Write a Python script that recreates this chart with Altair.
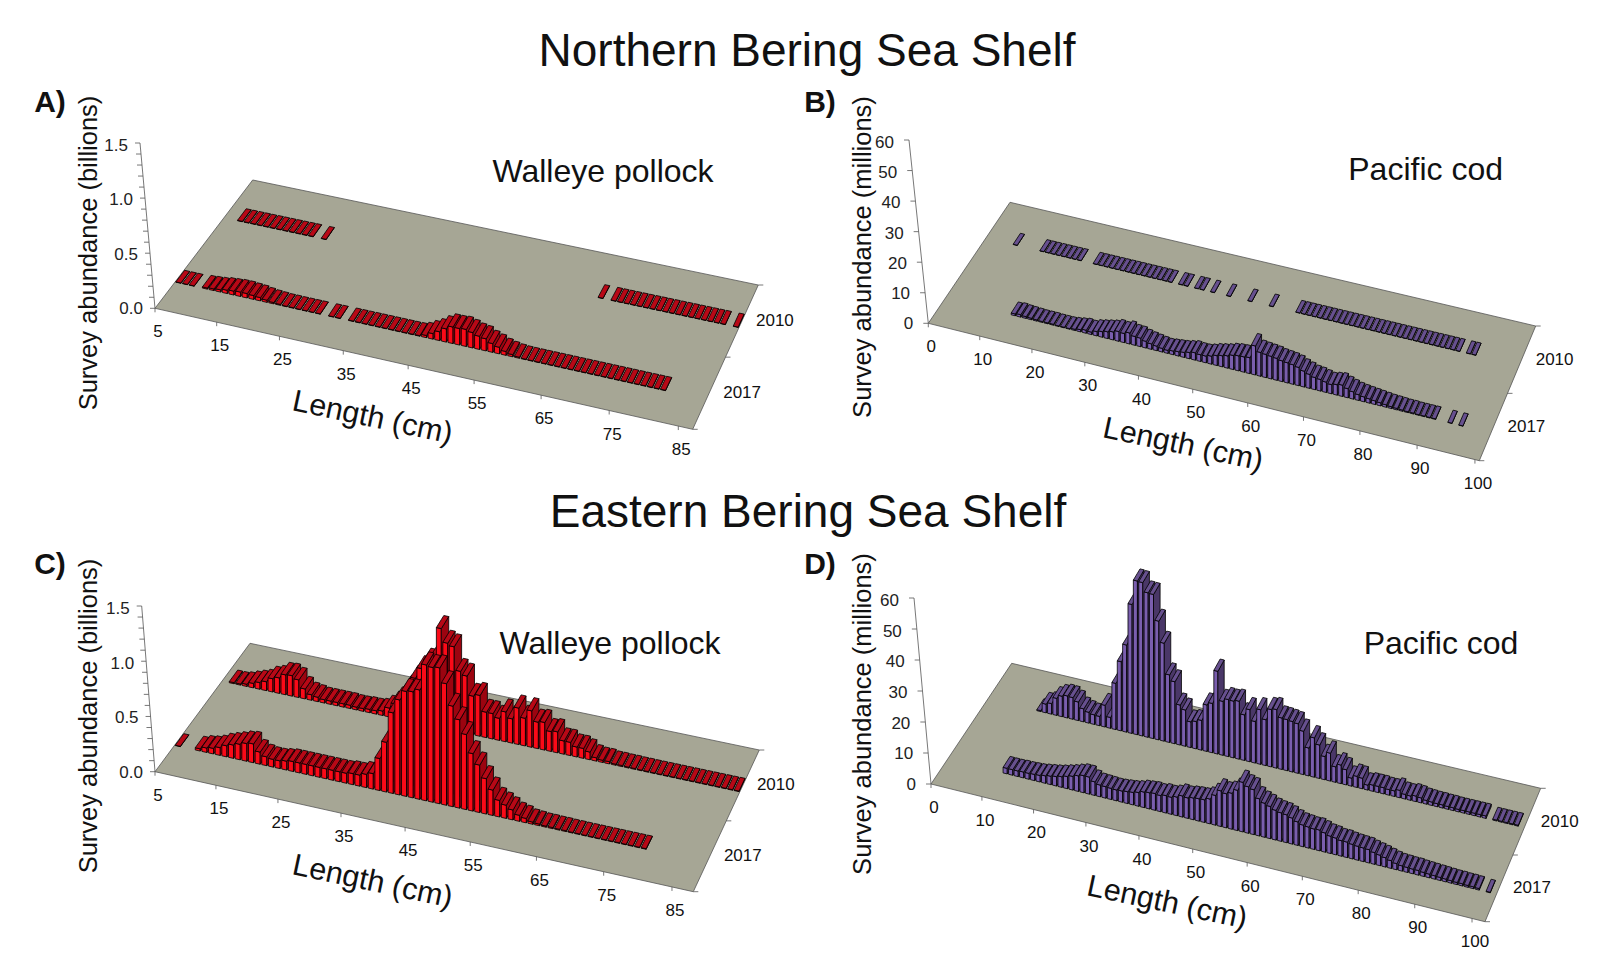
import altair as alt
import pandas as pd

alt.data_transformers.disable_max_rows()

# ---------- values: (first bin, abundances per 1-cm bin) ----------
A_2017 = [(0, [.003, .003, .003]),
          (4, [.01, .015, .02, .03, .035, .04, .04, .035, .03, .02, .012, .008, .004, .004, .003, .003, .003, .003]),
          (23, [.003, .003]),
          (26, [.004, .004, .004, .004, .004, .004, .004, .004, .004, .004, .005, .02, .05, .08, .12, .15, .15, .155,
                .14, .12, .11, .08, .06, .035, .02, .01, .005, .004, .004, .004, .004, .004, .004, .004, .004, .004,
                .004, .004, .004, .004, .004, .004, .004, .004, .004, .004, .004, .004])]
A_2010 = [(2, [.004, .004, .004, .004, .004, .004, .004, .004, .004, .004, .004, .004]),
          (15, [.003]), (58, [.003]),
          (60, [.003, .003, .003, .003, .003, .003, .003, .003, .003, .003, .003, .003, .003, .003, .003, .003, .003, .003]),
          (79, [.003])]
B_2017 = [(12, [.6, .8, .6, .5, .4, .3, .3, .3, .2, .2, .2, .4, .7, 1.0, .8, 1.4, 1.8, 2.2, 2.6, 3.2, 3.0, 3.6, 2.9, 2.8,
                2.2, 1.8, 1.5, 1.2, 1.0, 1.2, 1.4, 1.6, 2.0, 2.4, 2.2, 2.2, 2.6, 3.2, 3.6, 4.0, 4.6, 4.9, 5.0, 5.2, 9.5,
                7.8, 7.6, 7.4, 7.2, 6.8, 6.6, 6.4, 6.0, 5.2, 4.6, 4.0, 3.8, 3.4, 3.0, 3.4, 3.7, 3.0, 2.4, 1.9, 1.6, 1.4,
                1.2, 1.0, .8, .6, .5, .4, .3, .3, .2, .2, .2, .2]),
          (92, [.1]), (94, [.1])]
B_2010 = [(5, [.1]),
          (10, [.1, .1, .1, .1, .1, .1, .1, .1]),
          (20, [.1, .1, .1, .1, .1, .1, .1, .1, .1, .1, .1, .1, .1, .1, .1]),
          (36, [.1, .1]), (39, [.1, .1]), (42, [.1]), (45, [.1]), (49, [.1]), (53, [.1]),
          (58, [.1, .1, .1, .1, .1, .1, .1, .1, .1, .1, .1, .1, .1, .1, .1, .1, .1, .1, .1, .1, .1, .1, .1, .1, .1, .1,
                .1, .1, .1, .1, .1]),
          (90, [.1, .1])]
C_2017 = [(0, [.003]),
          (3, [.02, .04, .05, .07, .10, .12, .14, .16, .17, .11, .08, .07, .07, .08, .09, .09, .09, .09, .09, .09, .09,
               .09, .09, .10, .10, .12, .14, .29, .45, .73, .86, .95, .96, .99, 1.23, 1.22, 1.23, 1.1, .91, .8, .68, .52,
               .43, .32, .23, .15, .12, .09, .055, .04, .02, .015, .01, .01, .008, .008, .006, .006, .005, .005, .005,
               .005, .005, .005, .005, .005, .005, .005])]
C_2010 = [(1, [.01, .01, .02, .04, .06, .08, .12, .14, .18, .185, .16, .09, .05, .04, .03, .03, .03, .03, .03, .025, .025,
               .03, .03, .04, .08, .13, .2, .3, .4, .5, .58, .62, .90, .78, .76, .55, .52, .35, .37, .23, .23, .2, .27,
               .22, .33, .25, .33, .24, .25, .18, .19, .12, .12, .09, .09, .07, .03, .02, .02, .01, .01, .008, .008, .006,
               .006, .005, .005, .005, .005, .005, .005, .005, .005, .005, .005, .005, .005, .005, .005])]
D_2017 = [(10, [1.8, 1.8, 1.8, 1.9, 1.9, 2, 2.1, 2.4, 2.7, 3, 3.4, 3.9, 4.4, 5, 5.5, 5.5, 4.4, 3.8, 3.7, 3.6, 3.5, 3.6, 3.8,
                4, 4.4, 5, 5.2, 5.4, 5.2, 5.6, 5.5, 6, 6.8, 6.6, 7, 7.2, 7.3, 8, 9.6, 11.5, 11, 11.6, 13, 16, 15, 14.5,
                12, 11, 10.4, 9.6, 9.2, 9, 8.4, 7.6, 7, 6.8, 6.6, 6.7, 6.2, 5.6, 5.4, 5, 5, 4.7, 4.5, 4.4, 4.3, 3.8, 3.4,
                3, 2.5, 2, 1.7, 1.6, 1.5, 1.5, 1.3, 1.2, 1.1, 1, .9, .8, .7, .7, .6, .6, .5]),
          (98, [.2])]
D_2010 = [(9, [.3, 2.8, 3.4, 5.5, 6.6, 7.1, 7, 6, 4.2, 3.5, 3.1, 3, 7, 3.5, 14.9, 22.3, 28.1, 41.6, 49.6, 49.5, 46.6, 46.5, 38.3,
               31.6, 21.8, 20, 12.9, 11.7, 8.3, 8.8, 9.6, 15, 15.9, 26.7, 17.4, 18.4, 18.3, 18.7, 14.7, 16.8, 13.4, 17.6,
               14.8, 18.5, 18.9, 16.6, 16.5, 16.3, 16, 14, 9, 12.7, 10.8, 7.5, 9, 5, 6, 4.9, 2.6, 3.6, 3.4, 1.6, 2, 2, 2,
               1.8, 1.8, 2.4, 1.5, 1.4, 1.8, 1.6, 1.2, 1.1, 1, 1, .9, .9, .8, .8, .8, .8, .8, .8]),
          (94, [.3, .3, .3, .3, .3])]

AB_TITLE = "Northern Bering Sea Shelf"
CD_TITLE = "Eastern Bering Sea Shelf"
SPECIES = ["Walleye pollock", "Pacific cod", "Walleye pollock", "Pacific cod"]
LETTERS = ["A)", "B)", "C)", "D)"]
POLLOCK_TICKS = [0.0, 0.5, 1.0, 1.5]
POLLOCK_MINOR = [.1, .2, .3, .4, .6, .7, .8, .9, 1.1, 1.2, 1.3, 1.4]
COD_TICKS = [0, 10, 20, 30, 40, 50, 60]
POLLOCK_LEN = [5, 15, 25, 35, 45, 55, 65, 75, 85]
COD_LEN = [0, 10, 20, 30, 40, 50, 60, 70, 80, 90, 100]

# ---------- pseudo-3D layout: page pixels of floor corners etc. ----------
RED = ("#fa0a18", "#b80816", "#9c0410")
PUR = ("#7a5eae", "#67508f", "#4a3768")
PANELS = [
    dict(fl=(155, 308.3), bl=(252.7, 180), br=(758.3, 285), fr=(692.7, 429.3), top=(140, 143), vmax=1.5, bins=80,
         low=5, high=85, span=82.2, rows={2017: A_2017, 2010: A_2010}, col=RED, ticks=POLLOCK_TICKS, minor=POLLOCK_MINOR,
         lens=POLLOCK_LEN, fmt="{:.1f}", lab=-12, sp=(603, 172), let=(50, 103), yt=(89, 253),
         yts="Survey abundance (billions)", lt=(372.5, 418)),
    dict(fl=(928.3, 323.3), bl=(1010, 202.3), br=(1535.7, 326), fr=(1479.3, 460.7), top=(909, 140), vmax=60, bins=100,
         low=0, high=100, span=100.8, rows={2017: B_2017, 2010: B_2010}, col=PUR, ticks=COD_TICKS, minor=[],
         lens=COD_LEN, fmt="{:.0f}", lab=-15, sp=(1425.6, 170), let=(820, 103), yt=(863, 257),
         yts="Survey abundance (millions)", lt=(1183, 445)),
    dict(fl=(155, 771.7), bl=(250, 643.3), br=(759.3, 750), fr=(693.3, 891.7), top=(141.7, 606), vmax=1.5, bins=80,
         low=5, high=85, span=83.3, rows={2017: C_2017, 2010: C_2010}, col=RED, ticks=POLLOCK_TICKS, minor=POLLOCK_MINOR,
         lens=POLLOCK_LEN, fmt="{:.1f}", lab=-12, sp=(610, 644), let=(50, 565), yt=(89, 716),
         yts="Survey abundance (billions)", lt=(372.5, 882)),
    dict(fl=(931, 784), bl=(1011.7, 663.3), br=(1540.7, 788.3), fr=(1485, 921.7), top=(914, 598), vmax=60, bins=100,
         low=0, high=100, span=102.4, rows={2017: D_2017, 2010: D_2010}, col=PUR, ticks=COD_TICKS, minor=[],
         lens=COD_LEN, fmt="{:.0f}", lab=-15, sp=(1441, 644), let=(820, 565), yt=(863, 714),
         yts="Survey abundance (millions)", lt=(1167, 903)),
]
ROW_V = {2017: .25, 2010: .75}
DEPTH = .045
INSET = .12


def floor(p, u, v):
    fx = p["fl"][0] + u * (p["fr"][0] - p["fl"][0])
    fy = p["fl"][1] + u * (p["fr"][1] - p["fl"][1])
    bx = p["bl"][0] + u * (p["br"][0] - p["bl"][0])
    by = p["bl"][1] + u * (p["br"][1] - p["bl"][1])
    return fx + v * (bx - fx), fy + v * (by - fy)


def envelope(pts):
    """Convex polygon -> (x, upper y, lower y) rows for an area mark."""
    xs = sorted({q[0] for q in pts})
    n = len(pts)
    out = []
    for x in xs:
        ys = []
        for i in range(n):
            a, b = pts[i], pts[(i + 1) % n]
            lo, hi = min(a[0], b[0]), max(a[0], b[0])
            if lo - 1e-9 <= x <= hi + 1e-9:
                if abs(b[0] - a[0]) < 1e-9:
                    ys += [a[1], b[1]]
                else:
                    ys.append(a[1] + (x - a[0]) / (b[0] - a[0]) * (b[1] - a[1]))
        out.append((x, min(ys), max(ys)))
    return out


area_rows, floor_rows, rule_rows, mid_text, right_text, bold_text = [], [], [], [], [], []
gid = 0


def add_poly(pts, fill):
    global gid
    gid += 1
    for x, y0, y1 in envelope(pts):
        area_rows.append(dict(x=x, y=y0, y2=y1, g=f"g{gid:05d}", fill=fill))


for k, p in enumerate(PANELS):
    # floor
    corners = [p["fl"], p["bl"], p["br"], p["fr"]]
    for x, y0, y1 in envelope(corners):
        floor_rows.append(dict(x=x, y=y0, y2=y1, g=f"f{k}"))
    # vertical axis
    vscale = (p["fl"][1] - p["top"][1]) / p["vmax"]
    vx = (p["top"][0] - p["fl"][0]) / p["vmax"]
    rule_rows.append(dict(x=p["fl"][0], y=p["fl"][1], x2=p["top"][0], y2=p["top"][1]))
    for t in p["ticks"] + p["minor"]:
        ax, ay = p["fl"][0] + t * vx, p["fl"][1] - t * vscale
        rule_rows.append(dict(x=ax - 5, y=ay, x2=ax, y2=ay))
    for t in p["ticks"]:
        ax, ay = p["fl"][0] + t * vx, p["fl"][1] - t * vscale
        right_text.append(dict(x=ax + p["lab"], y=ay + 1 + 2 * t / p["vmax"], t=p["fmt"].format(t)))
    # length ticks: slight perspective along the length axis
    for L in p["lens"]:
        s = (L - p["low"]) / (p["high"] - p["low"])
        uend = (p["high"] - p["low"]) / p["span"]
        tx, ty = floor(p, uend * (.935 * s + .065 * s * s), 0)
        rule_rows.append(dict(x=tx, y=ty, x2=tx, y2=ty + 4))
        mid_text.append(dict(x=tx + 3, y=ty + 24, t=str(L), s=17, a=0))
    # year ticks and labels
    for v in (0, .5, 1):
        tx, ty = floor(p, 1, v)
        rule_rows.append(dict(x=tx, y=ty, x2=tx + 5, y2=ty))
    for yr, v in ROW_V.items():
        tx, ty = floor(p, 1, v)
        mid_text.append(dict(x=tx + 33, y=ty, t=str(yr), s=17, a=0))
    # floor outline
    for a, b in ((p["fl"], p["fr"]), (p["bl"], p["br"]), (p["fl"], p["bl"]), (p["fr"], p["br"])):
        rule_rows.append(dict(x=a[0], y=a[1], x2=b[0], y2=b[1]))
    # texts
    mid_text.append(dict(x=p["sp"][0], y=p["sp"][1], t=SPECIES[k], s=32, a=0))
    mid_text.append(dict(x=p["yt"][0], y=p["yt"][1], t=p["yts"], s=25.5, a=270))
    mid_text.append(dict(x=p["lt"][0], y=p["lt"][1], t="Length (cm)", s=30.5, a=12))
    bold_text.append(dict(x=p["let"][0], y=p["let"][1], t=LETTERS[k]))
    # bars: back row first, left to right
    front_c, top_c, side_c = p["col"]
    for yr in (2010, 2017):
        v = ROW_V[yr]
        for start, vals in p["rows"][yr]:
            for j, val in enumerate(vals):
                i = start + j
                u0, u1 = (i + INSET) / p["bins"], (i + 1 - INSET) / p["bins"]
                h = val * vscale
                a = floor(p, u0, v - DEPTH)
                b = floor(p, u1, v - DEPTH)
                c = floor(p, u1, v + DEPTH)
                d = floor(p, u0, v + DEPTH)
                up = lambda q: (q[0], q[1] - h)
                add_poly([a, b, up(b), up(a)], front_c)
                add_poly([b, c, up(c), up(b)], side_c)
                add_poly([up(a), up(b), up(c), up(d)], top_c)

mid_text.append(dict(x=807, y=52, t=AB_TITLE, s=46, a=0))
mid_text.append(dict(x=808, y=513, t=CD_TITLE, s=46, a=0))

X = alt.X("x:Q", scale=alt.Scale(domain=[8, 1592], nice=False, zero=False), axis=None)
Y = alt.Y("y:Q", scale=alt.Scale(domain=[965, 8], nice=False, zero=False), axis=None)

floors = alt.Chart(pd.DataFrame(floor_rows)).mark_area(color="#a6a695", interpolate="linear").encode(
    x=X, y=Y, y2="y2:Q", detail="g:N")
rules = alt.Chart(pd.DataFrame(rule_rows)).mark_rule(color="#555555", strokeWidth=0.8).encode(
    x=X, y=Y, x2="x2:Q", y2="y2:Q")
bars = alt.Chart(pd.DataFrame(area_rows)).mark_area(
    stroke="#000000", strokeWidth=0.8, interpolate="linear", opacity=1).encode(
    x=X, y=Y, y2="y2:Q", detail="g:N", fill=alt.Fill("fill:N", scale=None))
mids = alt.Chart(pd.DataFrame(mid_text)).mark_text(font="Liberation Sans", baseline="middle", align="center").encode(
    x=X, y=Y, text="t:N", size=alt.Size("s:Q", scale=None), angle=alt.Angle("a:Q", scale=None),
    color=alt.value("#111111"))
rights = alt.Chart(pd.DataFrame(right_text)).mark_text(
    font="Liberation Sans", baseline="middle", align="right", fontSize=17, color="#222222").encode(
    x=X, y=Y, text="t:N")
bolds = alt.Chart(pd.DataFrame(bold_text)).mark_text(
    font="Liberation Sans", baseline="middle", align="center", fontSize=30, fontWeight="bold", color="#111111").encode(
    x=X, y=Y, text="t:N")

chart = alt.layer(floors, rules, bars, mids, rights, bolds).properties(
    width=1584, height=957, padding=0, autosize=alt.AutoSizeParams(type="none"), background="white"
).configure_view(stroke=None)

chart.save("out.html", embed_options={"renderer": "svg", "actions": False})
